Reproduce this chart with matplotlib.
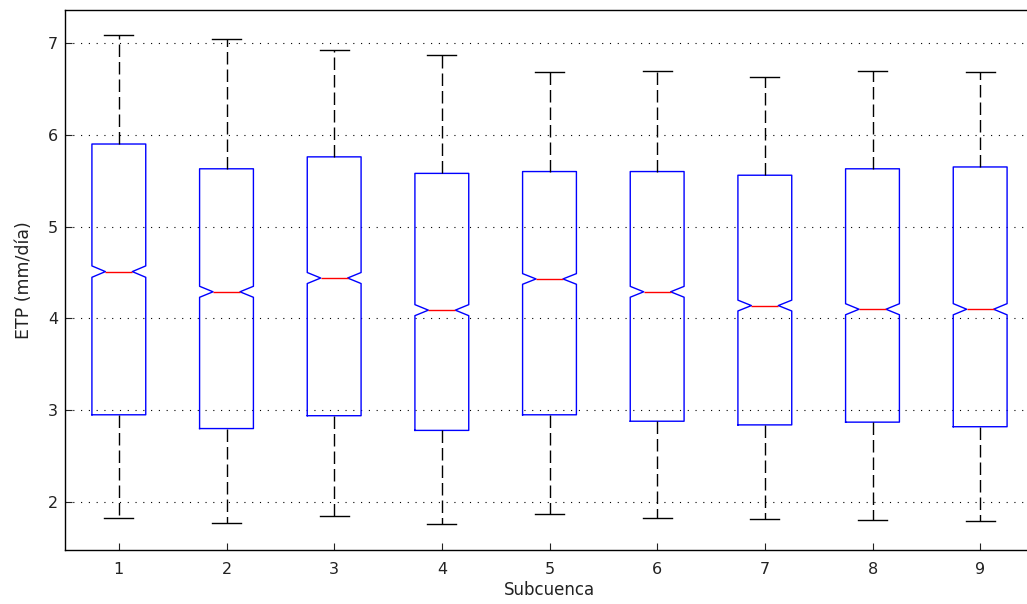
import matplotlib
matplotlib.use("Agg")
import matplotlib.pyplot as plt

plt.rcParams['font.family'] = ['DejaVu Sans']

categories = ['1', '2', '3', '4', '5', '6', '7', '8', '9']
whislo = [1.83, 1.77, 1.85, 1.76, 1.87, 1.83, 1.82, 1.80, 1.79]
q1     = [2.95, 2.80, 2.94, 2.78, 2.95, 2.88, 2.84, 2.87, 2.82]
med    = [4.51, 4.29, 4.44, 4.09, 4.43, 4.29, 4.14, 4.10, 4.10]
q3     = [5.90, 5.63, 5.76, 5.58, 5.60, 5.60, 5.56, 5.63, 5.65]
whishi = [7.09, 7.04, 6.92, 6.87, 6.68, 6.70, 6.63, 6.70, 6.68]
notch_half = [0.062, 0.060, 0.060, 0.060, 0.058, 0.059, 0.059, 0.060, 0.061]

stats = []
for i, lab in enumerate(categories):
    stats.append(dict(label=lab, whislo=whislo[i], q1=q1[i], med=med[i],
                      q3=q3[i], whishi=whishi[i], fliers=[],
                      cilo=med[i] - notch_half[i], cihi=med[i] + notch_half[i]))

fig = plt.figure(figsize=(10.27, 6.04), dpi=100)
ax = fig.add_axes([65/1027, 54/604, 969/1027, 540/604])

positions = list(range(1, len(categories) + 1))
ax.bxp(stats, positions=positions, widths=0.5, capwidths=0.27, shownotches=True,
       showfliers=False,
       boxprops=dict(color=(0, 0, 1), linewidth=1.0),
       medianprops=dict(color=(1, 0, 0), linewidth=1.0),
       whiskerprops=dict(color='black', linewidth=1.0, linestyle=(0, (9, 3.6))),
       capprops=dict(color='black', linewidth=1.0))

ax.set_xlim(0.5, 9.5)
ax.set_ylim(1.477, 7.36)
ax.set_yticks([2, 3, 4, 5, 6, 7])
ax.set_xticks(positions)
ax.set_xticklabels(categories)
ax.yaxis.grid(True, color='black', linestyle=(0, (1, 6)), linewidth=0.8)
ax.set_axisbelow(True)
ax.tick_params(direction='in', length=5, labelsize=11.5, colors='#222222')
ax.tick_params(axis='x', pad=9)
ax.tick_params(axis='y', pad=5)
for s in ax.spines.values():
    s.set_color('black')
    s.set_linewidth(1.0)
ax.set_xlabel('Subcuenca', fontsize=12, labelpad=2.5, color='#222222')
ax.set_ylabel('ETP (mm/día)', fontsize=12.5, labelpad=11, color='#222222')

fig.savefig('out.png', dpi=100)
